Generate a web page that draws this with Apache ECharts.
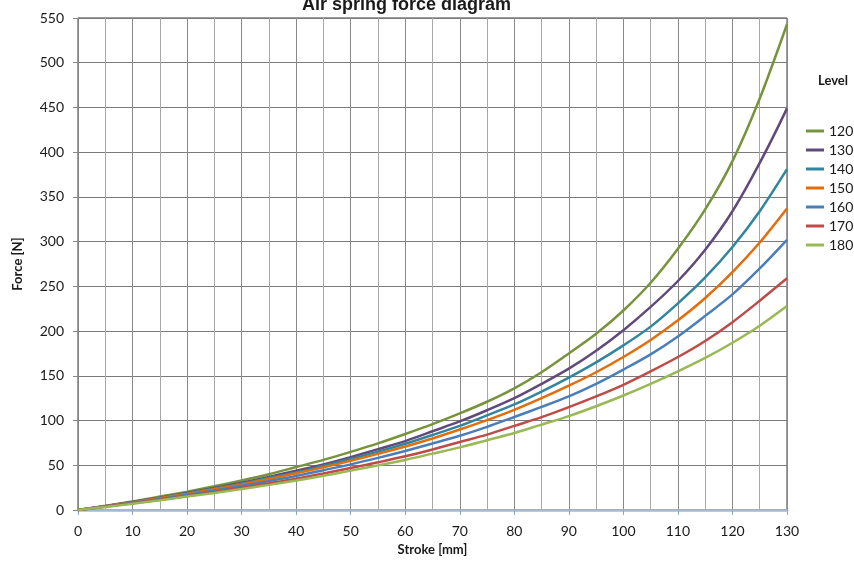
<!DOCTYPE html>
<html>
<head>
<meta charset="utf-8">
<script src="https://cdn.jsdelivr.net/npm/echarts@6/dist/echarts.min.js"></script>
<style>
html,body{margin:0;padding:0;background:#fff;}
#c{width:854px;height:561px;}
</style>
</head>
<body>
<div id="c"></div>
<script>
const strokes = [0, 5, 10, 15, 20, 25, 30, 35, 40, 45, 50, 55, 60, 65, 70, 75, 80, 85, 90, 95, 100, 105, 110, 115, 120, 125, 130];
const levelNames = ['120', '130', '140', '150', '160', '170', '180'];
const lvl120 = [0, 4.7, 9.5, 15, 20.5, 26.5, 33, 40, 48, 56, 65, 74.5, 85, 96, 108, 121, 136, 154, 175, 197, 223, 254, 292, 336, 390, 460, 543];
const lvl130 = [0, 4.3, 9, 13.8, 19, 24.5, 30.5, 37, 44, 51, 59, 68, 77, 88, 99, 111.5, 125, 141, 158, 178, 201, 227, 256, 291, 334, 388, 449];
const lvl140 = [0, 4.2, 8.7, 13.5, 18.5, 24, 29.5, 35.8, 42, 49.5, 57, 65.3, 74, 83.8, 94, 105.8, 118, 132.4, 148, 165, 184, 205, 231, 260, 294, 334, 381];
const lvl150 = [0, 4.2, 8.5, 13.2, 18, 23.3, 28.5, 34.7, 41, 47.7, 55, 62.7, 71, 80, 90, 100.5, 112, 125, 139, 154, 171, 190, 212, 237, 266, 299, 337];
const lvl160 = [0, 3.9, 8, 12.3, 17, 21.8, 27, 32.4, 38, 44.5, 51, 58.3, 66, 74.3, 83, 93, 104, 115.2, 127, 141, 157, 174, 194, 217, 241, 270, 302];
const lvl170 = [0, 3.6, 7.4, 11.4, 15.6, 20.1, 25, 29.9, 35, 40.8, 47, 53.3, 60, 67.7, 76, 84.3, 94, 103.8, 115, 127, 140, 155, 171, 189, 210, 234, 259];
const lvl180 = [0, 3.4, 7, 10.8, 15, 19, 23.5, 28.1, 33, 38.3, 44, 49.9, 56, 63, 70, 78, 86, 95.5, 105, 116, 128, 141, 155, 170, 187, 206, 228];
const yTicks = [0, 50, 100, 150, 200, 250, 300, 350, 400, 450, 500, 550];
const xTicks = [0, 10, 20, 30, 40, 50, 60, 70, 80, 90, 100, 110, 120, 130];

const levels = [lvl120, lvl130, lvl140, lvl150, lvl160, lvl170, lvl180];
const colors = ['#77933C', '#604A7B', '#31859C', '#E46C0A', '#4A7EBB', '#BE4B48', '#98B954'];

const chart = echarts.init(document.getElementById('c'));
const font = 'Lato, "Open Sans", sans-serif';
chart.setOption({
  animation: false,
  backgroundColor: '#fff',
  color: colors,
  title: [
    {text: 'Air spring force diagram', left: 297, top: -9,
     textStyle: {fontFamily: '"Liberation Sans", Arial, sans-serif', fontWeight: 'bold', fontSize: 18, color: '#1a1a1a'}},
    {text: 'Level', left: 813, top: 69,
     textStyle: {fontFamily: font, fontWeight: 'bold', fontSize: 13, color: '#1a1a1a'}}
  ],
  legend: {
    orient: 'vertical', left: 801, top: 119,
    icon: 'rect', itemWidth: 18, itemHeight: 3, itemGap: 5,
    textStyle: {fontFamily: font, fontSize: 14, color: '#1a1a1a', lineHeight: 14},
    data: levelNames
  },
  grid: {left: 78, right: 67, top: 18, bottom: 49, show: true, borderColor: '#3a3a3a', borderWidth: 1},
  xAxis: {
    type: 'value', min: 0, max: 130, interval: 10,
    name: 'Stroke [mm]', nameLocation: 'middle', nameGap: 33,
    nameTextStyle: {fontFamily: font, fontWeight: 'bold', fontSize: 13, color: '#1a1a1a'},
    axisLine: {show: true, lineStyle: {color: '#A7B9D4', width: 2.5}},
    axisTick: {show: true, length: 5, lineStyle: {color: '#8FA4C2'}},
    axisLabel: {fontFamily: font, fontSize: 14, color: '#1a1a1a', margin: 14,
      formatter: v => xTicks.includes(v) ? String(v) : ''},
    splitLine: {show: true, lineStyle: {color: '#8a8a8a', width: 1}},
    minorTick: {show: false, splitNumber: 2},
    minorSplitLine: {show: true, lineStyle: {color: '#a8a8a8', width: 1}}
  },
  yAxis: {
    type: 'value', min: 0, max: 550, interval: 50,
    name: 'Force [N]', nameLocation: 'middle', nameGap: 54,
    nameTextStyle: {fontFamily: font, fontWeight: 'bold', fontSize: 13, color: '#1a1a1a'},
    axisLine: {show: true, lineStyle: {color: '#868686', width: 1}},
    axisTick: {show: true, length: 5, lineStyle: {color: '#868686'}},
    axisLabel: {fontFamily: font, fontSize: 14, color: '#1a1a1a', margin: 14,
      formatter: v => yTicks.includes(v) ? String(v) : ''},
    splitLine: {show: true, lineStyle: {color: '#7a7a7a', width: 1}}
  },
  series: levels.map((arr, i) => ({
    name: levelNames[i], type: 'line', smooth: 0.3, showSymbol: false, symbol: 'none',
    lineStyle: {width: 2.5, color: colors[i]},
    itemStyle: {color: colors[i]},
    data: strokes.map((s, j) => [s, arr[j]])
  }))
});
</script>
</body>
</html>
